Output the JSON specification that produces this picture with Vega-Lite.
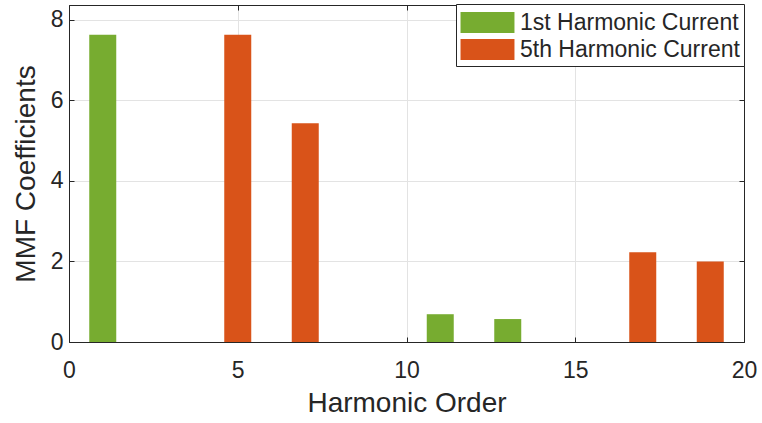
{
  "$schema": "https://vega.github.io/schema/vega-lite/v6.json",
  "autosize": "none",
  "width": 675,
  "height": 337,
  "padding": {"left": 69, "top": 5, "right": 18, "bottom": 81},
  "background": "white",
  "config": {
    "font": "Liberation Sans",
    "view": {"stroke": "#262626", "strokeWidth": 1}
  },
  "data": {
    "values": [
      {"order": 1, "coef": 7.63, "series": "1st Harmonic Current"},
      {"order": 5, "coef": 7.63, "series": "5th Harmonic Current"},
      {"order": 7, "coef": 5.43, "series": "5th Harmonic Current"},
      {"order": 11, "coef": 0.69, "series": "1st Harmonic Current"},
      {"order": 13, "coef": 0.57, "series": "1st Harmonic Current"},
      {"order": 17, "coef": 2.23, "series": "5th Harmonic Current"},
      {"order": 19, "coef": 2.0, "series": "5th Harmonic Current"}
    ]
  },
  "layer": [
    {
      "mark": {"type": "bar", "width": 27},
      "encoding": {
        "x": {
          "field": "order", "type": "quantitative",
          "scale": {"domain": [0, 20], "nice": false, "zero": false, "padding": 0},
          "axis": {
            "orient": "bottom", "title": "Harmonic Order", "values": [0, 5, 10, 15, 20],
            "grid": true, "gridColor": "#e3e3e3", "gridWidth": 1, "labelFlush": false,
            "domainColor": "#262626", "tickColor": "#262626", "tickSize": -5,
            "labelFontSize": 23, "labelColor": "#262626", "labelPadding": 22,
            "titleFontSize": 28, "titleFontWeight": "normal", "titleColor": "#262626", "titlePadding": 7
          }
        },
        "y": {
          "field": "coef", "type": "quantitative",
          "scale": {"domain": [0, 8.37], "nice": false, "padding": 0},
          "axis": {
            "orient": "left", "title": "MMF Coefficients", "values": [0, 2, 4, 6, 8],
            "grid": true, "gridColor": "#e3e3e3", "gridWidth": 1, "labelFlush": false,
            "domainColor": "#262626", "tickColor": "#262626", "tickSize": -5,
            "labelFontSize": 23, "labelColor": "#262626", "labelPadding": 11,
            "titleFontSize": 28, "titleFontWeight": "normal", "titleColor": "#262626", "titlePadding": 10
          }
        },
        "color": {
          "field": "series", "type": "nominal",
          "scale": {"domain": ["1st Harmonic Current", "5th Harmonic Current"], "range": ["#77AC30", "#D95319"]},
          "legend": {
            "title": null, "orient": "none", "legendX": 387, "legendY": -1,
            "padding": 4, "fillColor": "white", "strokeColor": "#262626", "cornerRadius": 0,
            "symbolType": "M-1.86,-0.72H1.86V0.72H-1.86Z", "symbolSize": 841, "symbolStrokeWidth": 0,
            "symbolOffset": 13, "labelOffset": 18, "labelLimit": 0,
            "labelFontSize": 23, "labelColor": "#262626", "rowPadding": 0
          }
        }
      }
    },
    {
      "mark": {"type": "point", "opacity": 0},
      "encoding": {
        "x": {
          "field": "order", "type": "quantitative",
          "axis": {"orient": "top", "title": null, "labels": false, "grid": false, "values": [0, 5, 10, 15, 20],
                   "domainColor": "#262626", "tickColor": "#262626", "tickSize": -5}
        },
        "y": {
          "field": "coef", "type": "quantitative",
          "axis": {"orient": "right", "title": null, "labels": false, "grid": false, "values": [0, 2, 4, 6, 8],
                   "domainColor": "#262626", "tickColor": "#262626", "tickSize": -5}
        }
      }
    }
  ],
  "resolve": {"axis": {"x": "independent", "y": "independent"}}
}
